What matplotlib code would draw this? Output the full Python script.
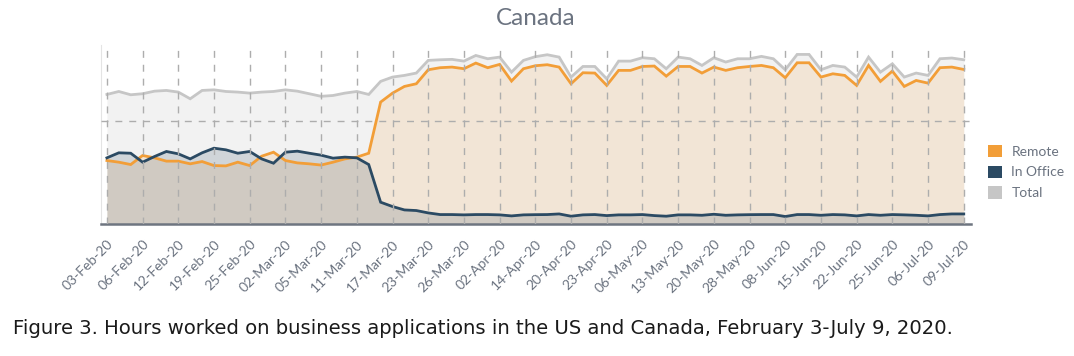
import numpy as np
import matplotlib
matplotlib.use('Agg')
import matplotlib.pyplot as plt
from matplotlib.patches import Patch

# labelled dates (one label every 3rd sample)
tick_labels = ['03-Feb-20', '06-Feb-20', '12-Feb-20', '19-Feb-20', '25-Feb-20',
               '02-Mar-20', '05-Mar-20', '11-Mar-20', '17-Mar-20', '23-Mar-20',
               '26-Mar-20', '02-Apr-20', '14-Apr-20', '20-Apr-20', '23-Apr-20',
               '06-May-20', '13-May-20', '20-May-20', '28-May-20', '08-Jun-20',
               '15-Jun-20', '22-Jun-20', '25-Jun-20', '06-Jul-20', '09-Jul-20']

total = [12.58, 12.87, 12.55, 12.65, 12.90, 12.97, 12.81, 12.16, 12.97, 13.03,
         12.87, 12.81, 12.71, 12.81, 12.87, 13.03, 12.90, 12.65, 12.40, 12.48,
         12.71, 12.87, 12.58, 13.85, 14.27, 14.43, 14.66, 15.89, 15.95, 15.99,
         15.82, 16.37, 16.05, 16.21, 14.75, 15.89, 16.25, 16.44, 16.21, 14.27,
         15.30, 15.30, 14.10, 15.82, 15.82, 16.15, 16.05, 15.08, 16.21, 16.05,
         15.40, 16.15, 15.73, 16.05, 16.05, 16.28, 16.05, 14.98, 16.47, 16.47,
         14.98, 15.40, 15.24, 14.27, 16.21, 14.75, 15.56, 14.27, 14.66, 14.43,
         16.05, 16.12, 15.95]

remote = [6.16, 6.00, 5.77, 6.65, 6.42, 6.10, 6.10, 5.84, 6.06, 5.67,
          5.64, 6.00, 5.67, 6.58, 6.97, 6.16, 5.93, 5.84, 5.72, 6.00,
          6.32, 6.49, 6.87, 11.84, 12.71, 13.36, 13.62, 14.98, 15.18, 15.24,
          15.08, 15.63, 15.18, 15.50, 13.88, 15.08, 15.37, 15.47, 15.24, 13.62,
          14.69, 14.66, 13.46, 14.92, 14.92, 15.30, 15.34, 14.36, 15.30, 15.30,
          14.66, 15.24, 14.92, 15.18, 15.30, 15.40, 15.18, 14.20, 15.66, 15.66,
          14.27, 14.59, 14.43, 13.46, 15.40, 13.85, 14.85, 13.36, 13.94, 13.68,
          15.18, 15.24, 15.01]

in_office = [6.42, 6.91, 6.87, 6.00, 6.55, 7.04, 6.81, 6.32, 6.91, 7.36,
             7.20, 6.87, 7.04, 6.32, 5.90, 6.97, 7.07, 6.87, 6.68, 6.39,
             6.49, 6.42, 5.77, 2.11, 1.69, 1.36, 1.30, 1.07, 0.91, 0.91,
             0.88, 0.91, 0.91, 0.88, 0.78, 0.88, 0.90, 0.91, 0.97, 0.75,
             0.88, 0.91, 0.81, 0.88, 0.88, 0.91, 0.81, 0.75, 0.88, 0.88,
             0.84, 0.94, 0.84, 0.88, 0.90, 0.91, 0.91, 0.72, 0.91, 0.91,
             0.84, 0.91, 0.88, 0.78, 0.91, 0.84, 0.91, 0.88, 0.84, 0.78,
             0.91, 0.97, 0.97]

ORANGE = '#f29e38'
NAVY = '#2b4a63'
GREY = '#c6c6c6'
TXT = '#6b7380'

x = np.arange(len(total))

fig = plt.figure(figsize=(10.74, 3.56), dpi=100)
ax = fig.add_axes([0.094, 0.371, 0.81, 0.503])

# fills
ax.fill_between(x, 0, total, color='#c8c8c8', alpha=0.22, lw=0)
ax.fill_between(x, 0, remote, color=ORANGE, alpha=0.15, lw=0)
ax.fill_between(x, 0, in_office, color=NAVY, alpha=0.17, lw=0)

# lines
ax.plot(x, total, color=GREY, lw=2.0, solid_joinstyle='miter')
ax.plot(x, remote, color=ORANGE, lw=2.0, solid_joinstyle='miter')
ax.plot(x, in_office, color=NAVY, lw=2.0, solid_joinstyle='miter')

ax.set_xlim(-0.5, 72.6)
ax.set_ylim(0, 17.4)
ax.set_xticks(np.arange(0, len(total), 3))
ax.set_xticklabels(tick_labels, rotation=45, ha='right', rotation_mode='anchor',
                   fontsize=10, color=TXT, family=['Lato', 'DejaVu Sans'])
ax.tick_params(axis='x', length=0, pad=10)
ax.set_yticks([10])
ax.set_yticklabels([])
ax.tick_params(axis='y', length=0)

ax.grid(True, color='#adadad', linestyle=(0, (5, 5)), lw=1.0)
ax.set_axisbelow(False)
for s in ['top', 'right']:
    ax.spines[s].set_visible(False)
ax.spines['left'].set_color('#e4e4e4')
ax.spines['left'].set_linewidth(0.8)
ax.spines['bottom'].set_color('#6e7580')
ax.spines['bottom'].set_linewidth(1.8)
ax.axvline(-0.5, ymin=0.944, ymax=0.983, color='#555555', lw=1.2)

ax.set_title('Canada', fontsize=17.5, color=TXT, family=['Lato', 'DejaVu Sans'], pad=14)

handles = [Patch(facecolor=ORANGE, edgecolor='none', label='Remote'),
           Patch(facecolor=NAVY, edgecolor='none', label='In Office'),
           Patch(facecolor=GREY, edgecolor='none', label='Total')]
leg = ax.legend(handles=handles, loc='center left', bbox_to_anchor=(1.005, 0.29),
                frameon=False, handlelength=1.0, handleheight=1.0, handletextpad=0.7,
                labelspacing=0.55, prop={'family': ['Lato', 'DejaVu Sans'], 'size': 10})
for t in leg.get_texts():
    t.set_color(TXT)

fig.text(0.012, 0.078, 'Figure 3. Hours worked on business applications in the US and Canada, '
         'February 3-July 9, 2020.', fontsize=14.1, color='#1a1a1a',
         family=['DejaVu Sans'], va='center')

fig.savefig('out.png', dpi=100)
